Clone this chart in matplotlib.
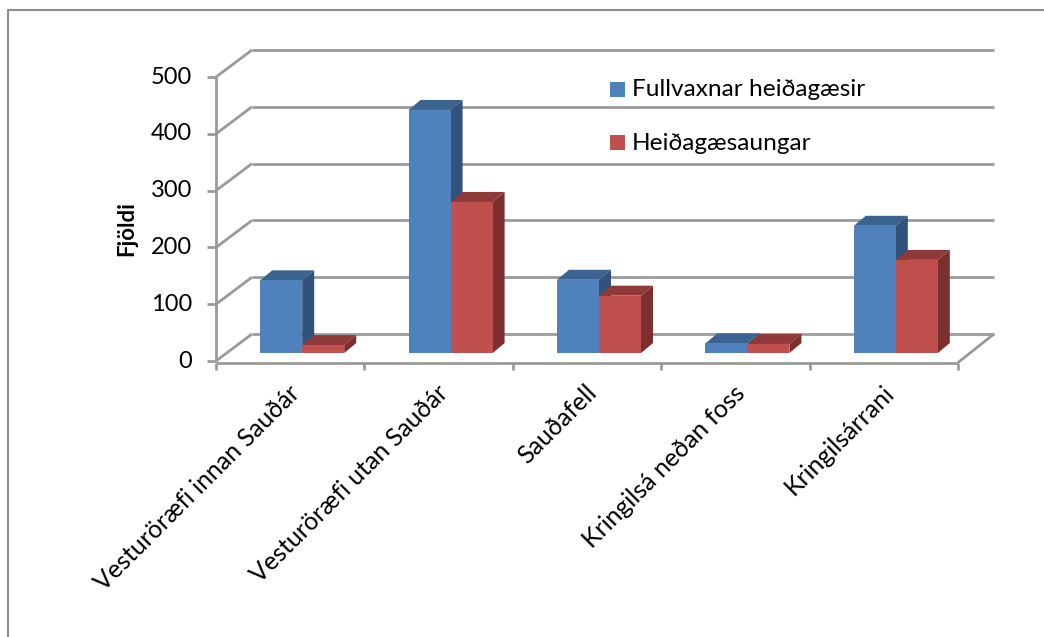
import numpy as np
import matplotlib
matplotlib.use("Agg")
import matplotlib.pyplot as plt
from matplotlib.patches import Polygon, Rectangle

categories = ["Vesturöræfi innan Sauðár", "Vesturöræfi utan Sauðár", "Sauðafell",
              "Kringilsá neðan foss", "Kringilsárrani"]
fullvaxnar = [128, 428, 129, 17, 224]
ungar = [14, 266, 101, 16, 164]
series_names = ["Fullvaxnar heiðagæsir", "Heiðagæsaungar"]
yticks = [0, 100, 200, 300, 400, 500]

W, H = 1044, 637
plt.rcParams['font.family'] = ['Lato', 'DejaVu Sans']

fig = plt.figure(figsize=(W / 100, H / 100), dpi=100)
# plot area in pixels: x 216..958, y 361 (zero) .. 77 (500)
ax = fig.add_axes([216 / W, 1 - 361 / H, (958 - 216) / W, (361 - 77) / H])
ax.set_xlim(0, 5)
ax.set_ylim(0, 500)
ax.axis("off")

# how many data units one pixel is
px_x = 5 / (958 - 216)
px_y = 500 / (361 - 77)

wall_dx, wall_dy = 36 * px_x, 27 * px_y   # depth of the floor
bar_dx, bar_dy = 12 * px_x, 10 * px_y     # depth of a bar
shift_x, floor_y = 12 * px_x, 14.0        # where bars stand on the floor
width = 42 * px_x
grey = "#9a9a9a"


def line(xs, ys, lw=2.0, z=1):
    ax.plot(xs, ys, color=grey, lw=lw, clip_on=False, zorder=z, solid_capstyle="butt")


# walls, grid and ticks
for t in yticks:
    line([0, wall_dx], [t, t + wall_dy])
    line([wall_dx, 5 + wall_dx], [t + wall_dy, t + wall_dy])
    line([-9 * px_x, 0], [t, t])
line([0, 0], [0, 500])
line([0, 5], [-1.5 * px_y, -1.5 * px_y])
line([5, 5 + wall_dx], [-1.5 * px_y, wall_dy])
for i in range(6):
    line([i, i], [-1.5 * px_y, -9 * px_y])


def bar3d(x, v, front, top, side, z):
    ax.bar(x, v, width=width, bottom=floor_y, align="edge", color=front, zorder=z + 0.2, clip_on=False)
    y1 = floor_y + v
    ax.add_patch(Polygon([(x, y1), (x + width, y1), (x + width + bar_dx, y1 + bar_dy), (x + bar_dx, y1 + bar_dy)],
                         facecolor=top, clip_on=False, zorder=z))
    ax.add_patch(Polygon([(x + width, floor_y), (x + width + bar_dx, floor_y + bar_dy),
                          (x + width + bar_dx, y1 + bar_dy), (x + width, y1)],
                         facecolor=side, clip_on=False, zorder=z))


centers = np.arange(5) + 0.5 + shift_x
for i in range(5):
    bar3d(centers[i] - width, fullvaxnar[i], "#4f81bd", "#3a6390", "#31527a", 3 + i)
    bar3d(centers[i], ungar[i], "#c0504d", "#8f3a38", "#7c2f2e", 3.5 + i)

# axis labels
for t in yticks:
    ax.text(-24 * px_x, t, str(t), ha="right", va="center", fontsize=17, color="black", clip_on=False)
ax.text(-89 * px_x, 234, "Fjöldi", rotation=90, ha="center", va="center", fontsize=16, fontweight="bold")
for i, c in enumerate(categories):
    ax.text(i + 0.5 - 2 * px_x, -20 * px_y, c, rotation=45, ha="right", va="top", rotation_mode="anchor",
            fontsize=18, color="black", clip_on=False)

# legend
leg_x = [610, 610]
leg_y = [90, 143]
for n, col, lx, ly in zip(series_names, ["#4f81bd", "#c0504d"], leg_x, leg_y):
    fig.add_artist(Rectangle((lx / W, 1 - (ly + 7) / H), 15 / W, 15 / H, transform=fig.transFigure,
                             facecolor=col, edgecolor="none"))
    fig.text((lx + 22) / W, 1 - ly / H, n, ha="left", va="center", fontsize=17.6, color="black")

# outer chart frame
fig.add_artist(plt.Line2D([8 / W, 8 / W, 1], [0, 1 - 10 / H, 1 - 10 / H], color="#8c8c8c", lw=1.5,
                          transform=fig.transFigure))

fig.savefig("out.png", dpi=100)
